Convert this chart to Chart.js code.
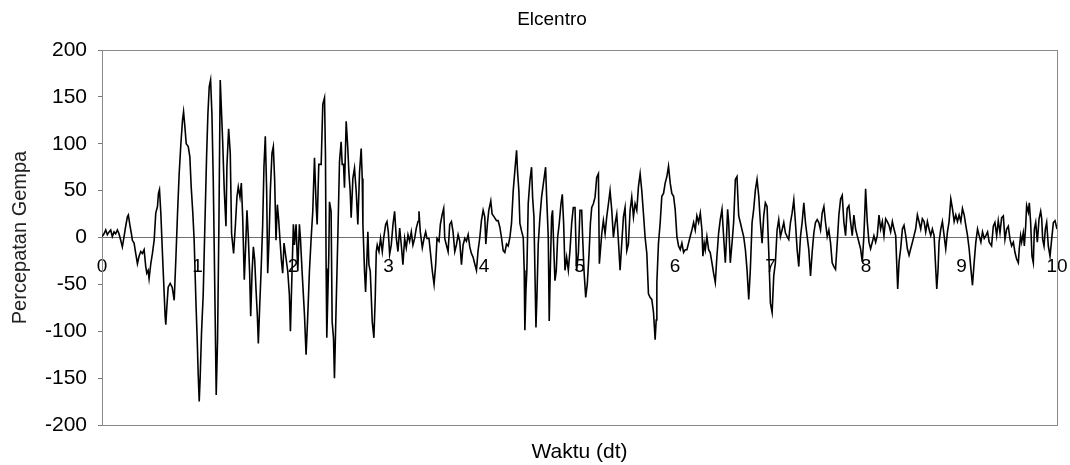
<!DOCTYPE html>
<html>
<head>
<meta charset="utf-8">
<script src="https://cdn.jsdelivr.net/npm/chart.js@4.4.1/dist/chart.umd.min.js"></script>
<style>
  body { margin: 0; background: #fff; }
  #wrap { width: 1070px; height: 465px; }
</style>
</head>
<body>
<div id="wrap"><canvas id="elcentro"></canvas></div>
<script>
// Elcentro record: [time (s), acceleration]
const part1 = [[0,1],[0.021,4],[0.039,8],[0.056,3],[0.074,6],[0.091,8],[0.108,1],[0.126,6],[0.143,4],[0.161,8],
  [0.178,4],[0.196,-3],[0.213,-10],[0.231,1],[0.248,12],[0.266,22],[0.276,24],[0.294,12],[0.308,4],[0.318,-3],
  [0.336,-6],[0.353,-17],[0.371,-28],[0.388,-20],[0.406,-15],[0.423,-17],[0.441,-13],[0.458,-31],[0.469,-38],[0.483,-35],
  [0.493,-44],[0.511,-28],[0.528,-17],[0.546,-3],[0.563,26],[0.581,33],[0.591,47],[0.602,51],[0.616,26],[0.633,-17],
  [0.651,-60],[0.661,-84],[0.668,-93],[0.679,-74],[0.693,-53],[0.714,-49],[0.735,-53],[0.756,-67],[0.773,-24],[0.791,26],
  [0.808,68],[0.826,100],[0.843,125],[0.854,134],[0.868,118],[0.882,100],[0.903,97],[0.920,86],[0.934,54],[0.951,26],
  [0.965,-3],[0.983,-67],[0.997,-109],[1.007,-145],[1.018,-175],[1.028,-149],[1.042,-102],[1.060,-60],[1.077,12],[1.095,86],
  [1.109,132],[1.123,161],[1.137,168],[1.151,132],[1.165,61],[1.175,-10],[1.186,-92],[1.196,-168],[1.210,-109],[1.224,12],
  [1.238,168],[1.249,140],[1.263,104],[1.280,51],[1.298,12],[1.308,76],[1.326,116],[1.343,90],[1.357,4],[1.378,-17],
  [1.396,12],[1.413,43],[1.427,54],[1.445,43],[1.459,58],[1.473,22],[1.490,-45],[1.504,-10],[1.518,29],[1.532,1],
  [1.546,-38],[1.557,-84],[1.571,-38],[1.585,-10],[1.599,-24],[1.613,-56],[1.627,-84],[1.637,-113],[1.651,-74],[1.665,-38],
  [1.682,12],[1.696,76],[1.710,108],[1.724,51],[1.735,-38],[1.749,-3],[1.763,51],[1.780,90],[1.794,97],[1.808,61],
  [1.822,-3],[1.836,35],[1.850,19],[1.864,-3],[1.878,-24],[1.892,-38],[1.906,-6]];

const part2 = [[1.945,-36],[1.962,-61],[1.973,-100],[1.990,-36],[2.004,14],[2.015,-8],[2.032,14],[2.050,-36],[2.067,14],[2.078,-1],
  [2.095,-36],[2.120,-82],[2.137,-125],[2.155,-82],[2.172,-36],[2.190,-1],[2.207,28],[2.225,85],[2.242,35],[2.253,14],
  [2.270,78],[2.295,78],[2.312,142],[2.330,149],[2.340,88],[2.347,-33],[2.354,-107],[2.375,-18],[2.382,38],[2.399,28],
  [2.410,-90],[2.424,-107],[2.434,-150],[2.452,-72],[2.469,-1],[2.487,81],[2.504,102],[2.515,78],[2.529,78],[2.539,53],
  [2.557,124],[2.574,95],[2.585,70],[2.599,49],[2.609,21],[2.627,63],[2.644,74],[2.662,49],[2.679,14],[2.697,70],
  [2.714,95],[2.725,63],[2.732,14],[2.749,-36],[2.760,-58],[2.774,-22],[2.784,6],[2.795,-29],[2.809,-36],[2.830,-90],
  [2.847,-107],[2.861,-65],[2.872,-15],[2.882,-8],[2.900,-15],[2.917,-1],[2.935,-15],[2.949,-1],[2.970,14],[2.984,17],
  [2.998,6],[3.012,-18],[3.029,-8],[3.047,14],[3.064,28],[3.082,-1],[3.099,-15],[3.117,10],[3.134,-8],[3.151,-29],
  [3.169,-1],[3.186,-11],[3.204,3],[3.221,-4],[3.239,6],[3.256,-8],[3.274,-1],[3.291,10],[3.309,17],[3.319,28],
  [3.333,6],[3.354,-11],[3.372,-1],[3.389,6],[3.403,-1],[3.424,-1],[3.438,-15],[3.459,-36],[3.477,-50],[3.494,-29],
  [3.508,-1],[3.529,-4],[3.543,14],[3.561,24],[3.578,31],[3.589,-1],[3.606,-8],[3.624,-15],[3.641,14],[3.659,17],
  [3.676,6],[3.694,-15],[3.711,-8],[3.729,3],[3.746,-4],[3.764,-29],[3.781,-8],[3.799,-1],[3.816,-4],[3.834,3]];

const part3 = [[3.851,-10],[3.868,-17],[3.886,-21],[3.903,-28],[3.921,-35],[3.938,-14],[3.956,0],[3.973,18],[3.991,29],[4.008,22],
  [4.019,-7],[4.036,15],[4.050,29],[4.071,39],[4.085,25],[4.106,22],[4.131,18],[4.148,18],[4.166,11],[4.183,0],
  [4.201,-14],[4.218,-16],[4.236,-7],[4.253,-9],[4.271,0],[4.288,15],[4.306,50],[4.323,71],[4.341,93],[4.351,71],
  [4.365,50],[4.376,15],[4.393,7],[4.411,0],[4.421,-35],[4.428,-99],[4.439,-57],[4.449,-35],[4.463,36],[4.481,61],
  [4.498,75],[4.509,43],[4.523,22],[4.533,-35],[4.544,-96],[4.554,-64],[4.568,-7],[4.586,22],[4.603,43],[4.621,57],
  [4.645,75],[4.655,46],[4.673,0],[4.683,-89],[4.694,-35],[4.708,22],[4.718,29],[4.729,-7],[4.743,-46],[4.757,-35],
  [4.771,0],[4.788,15],[4.806,36],[4.820,46],[4.834,15],[4.848,-35],[4.865,-21],[4.883,-35],[4.900,-14],[4.918,15],
  [4.935,32],[4.953,32],[4.970,-35],[4.988,-17],[5.005,29],[5.023,29],[5.033,0],[5.047,-35],[5.065,-64],[5.082,-49],
  [5.100,-17],[5.114,15],[5.128,32],[5.145,36],[5.163,43],[5.180,64],[5.198,68],[5.208,-28],[5.219,-14],[5.233,4],
  [5.250,18],[5.268,4],[5.285,22],[5.303,36],[5.320,50],[5.338,29],[5.355,0],[5.373,15],[5.390,25],[5.407,-3],
  [5.425,-35],[5.442,-7],[5.460,22],[5.477,32],[5.495,-14],[5.512,-7],[5.530,29],[5.547,43],[5.565,22],[5.582,36],
  [5.600,29],[5.617,54],[5.635,68],[5.652,50],[5.670,25],[5.687,0],[5.705,-17],[5.722,-60],[5.740,-64]];

const part4 = [[5.757,-66],[5.775,-80],[5.792,-109],[5.803,-88],[5.810,-48],[5.827,-6],[5.845,16],[5.862,44],[5.880,47],[5.897,58],
  [5.915,65],[5.932,76],[5.950,58],[5.967,47],[5.985,44],[6.002,30],[6.020,1],[6.037,-9],[6.055,-13],[6.072,-6],
  [6.090,-16],[6.107,-13],[6.125,-13],[6.142,-6],[6.159,1],[6.177,8],[6.195,16],[6.212,8],[6.229,23],[6.247,16],
  [6.265,26],[6.282,8],[6.292,-20],[6.306,-6],[6.317,-13],[6.334,1],[6.352,-13],[6.369,-16],[6.387,-27],[6.404,-38],
  [6.422,-48],[6.439,-20],[6.457,5],[6.474,19],[6.492,30],[6.509,1],[6.527,-27],[6.537,-6],[6.551,30],[6.562,16],
  [6.579,-27],[6.597,-6],[6.614,16],[6.632,62],[6.649,65],[6.667,23],[6.684,16],[6.702,8],[6.719,1],[6.737,-13],
  [6.754,-34],[6.772,-66],[6.789,-34],[6.807,16],[6.824,30],[6.842,51],[6.859,62],[6.877,44],[6.894,16],[6.912,-6],
  [6.929,23],[6.946,37],[6.964,33],[6.981,-13],[6.999,-70],[7.017,-80],[7.034,-41],[7.051,-27],[7.069,8],[7.086,19],
  [7.104,1],[7.121,8],[7.139,16],[7.156,5],[7.174,1],[7.191,-2],[7.209,16],[7.226,26],[7.244,40],[7.261,16],
  [7.279,-13],[7.296,-31],[7.314,1],[7.331,16],[7.349,37],[7.366,16],[7.384,1],[7.401,-13],[7.419,-41],[7.436,-16],
  [7.454,5],[7.471,16],[7.489,19],[7.506,16],[7.524,8],[7.541,26],[7.559,33],[7.576,16],[7.594,1],[7.611,8],
  [7.629,-6],[7.646,-27],[7.664,-31],[7.681,-34]];

const part5 = [[7.699,-5],[7.716,24],[7.734,41],[7.751,45],[7.768,17],[7.786,2],[7.803,31],[7.821,34],[7.838,17],[7.856,2],
  [7.873,24],[7.891,9],[7.908,2],[7.926,-5],[7.943,-12],[7.961,-26],[7.978,2],[7.989,31],[7.996,52],[8.013,17],
  [8.031,-5],[8.048,-12],[8.066,-5],[8.083,2],[8.101,-5],[8.118,2],[8.136,24],[8.153,9],[8.171,17],[8.188,2],
  [8.206,20],[8.223,17],[8.241,13],[8.258,6],[8.276,17],[8.293,9],[8.311,2],[8.321,-26],[8.332,-55],[8.346,-26],
  [8.363,-12],[8.381,9],[8.398,13],[8.416,2],[8.433,-12],[8.451,-19],[8.468,-12],[8.486,-5],[8.503,2],[8.520,9],
  [8.538,24],[8.555,17],[8.573,9],[8.590,20],[8.608,17],[8.625,6],[8.643,17],[8.660,9],[8.678,2],[8.695,9],
  [8.713,2],[8.730,-33],[8.741,-55],[8.755,-33],[8.765,-5],[8.783,9],[8.800,17],[8.818,2],[8.835,-12],[8.853,6],
  [8.870,17],[8.888,41],[8.905,31],[8.923,17],[8.940,24],[8.958,17],[8.975,24],[8.993,17],[9.010,31],[9.028,24],
  [9.045,13],[9.063,2],[9.080,-12],[9.098,-33],[9.115,-51],[9.133,-26],[9.150,-5],[9.168,9],[9.185,2],[9.203,-5],
  [9.220,6],[9.238,-1],[9.255,2],[9.273,6],[9.290,-5]];

const part6 = [[9.315,-9],[9.333,12],[9.350,16],[9.368,2],[9.385,18],[9.403,5],[9.420,21],[9.438,23],[9.455,-2],[9.473,9],
  [9.490,12],[9.508,-2],[9.525,-9],[9.543,-5],[9.560,-16],[9.577,-23],[9.595,-27],[9.605,-12],[9.619,2],[9.630,-5],
  [9.647,5],[9.658,-9],[9.672,12],[9.682,34],[9.700,27],[9.710,37],[9.724,16],[9.738,-20],[9.752,-27],[9.763,9],
  [9.777,16],[9.794,-5],[9.812,20],[9.829,28],[9.840,20],[9.850,-2],[9.864,-9],[9.878,9],[9.892,16],[9.909,-9],
  [9.927,-20],[9.944,-2],[9.962,16],[9.979,18],[10.0,9]];

const xRange = [0, 10];
const yRange = [-200, 200];
const yStep = 50;

const points = [...part1, ...part2, ...part3, ...part4, ...part5, ...part6].map(p => ({ x: p[0], y: p[1] }));

const dotted = { display: true, color: '#8a8a8a', width: 1, dash: [2, 2] };
const font = (size, weight) => ({ family: 'Liberation Sans, Arial, sans-serif', size: size, weight: weight || 'normal' });

new Chart(document.getElementById('elcentro'), {
  type: 'line',
  data: {
    datasets: [{
      data: points,
      borderColor: '#000',
      borderWidth: 1.6,
      pointRadius: 0,
      tension: 0,
      fill: false
    }]
  },
  options: {
    responsive: true,
    maintainAspectRatio: false,
    animation: false,
    layout: { padding: { left: 34, right: 0, top: 0, bottom: 0 } },
    plugins: {
      legend: { display: false },
      tooltip: { enabled: false },
      title: {
        display: true,
        text: 'Elcentro',
        color: '#000',
        font: font(19),
        padding: { top: 8.6, bottom: 18.6 }
      }
    },
    scales: {
      // time axis drawn across the zero line
      x: {
        type: 'linear',
        position: { y: 0 },
        min: xRange[0],
        max: xRange[1],
        ticks: { stepSize: 1, color: '#000', font: font(19), padding: 18, maxRotation: 0 },
        grid: { display: false, drawTicks: false },
        border: { display: true, color: '#707070', width: 1, dash: [3, 2] },
        afterFit: s => { s.paddingLeft = 0; s.paddingRight = 0; }
      },
      xb: {
        type: 'linear',
        axis: 'x',
        position: 'bottom',
        min: xRange[0],
        max: xRange[1],
        ticks: { display: false },
        grid: { display: false, drawTicks: false },
        border: dotted,
        title: { display: true, text: 'Waktu (dt)', color: '#000', font: font(21), padding: { top: 0, bottom: 0 } },
        afterFit: s => { s.height = 40; s.paddingLeft = 0; s.paddingRight = 0; }
      },
      xt: {
        type: 'linear',
        axis: 'x',
        position: 'top',
        min: xRange[0],
        max: xRange[1],
        ticks: { display: false },
        grid: { display: false, drawTicks: false },
        border: dotted,
        afterFit: s => { s.height = 0; s.paddingLeft = 0; s.paddingRight = 0; }
      },
      y: {
        type: 'linear',
        position: 'left',
        min: yRange[0],
        max: yRange[1],
        ticks: { stepSize: yStep, color: '#000', font: font(21), padding: 11 },
        grid: { display: true, drawOnChartArea: false, drawTicks: true, tickLength: 4, color: '#777' },
        border: dotted,
        title: { display: true, text: 'Percepatan Gempa', color: '#222', font: font(20), padding: { top: -26, bottom: 0 } },
        afterFit: s => { s.width = 68; }
      },
      y2: {
        type: 'linear',
        position: 'right',
        min: yRange[0],
        max: yRange[1],
        ticks: { display: false },
        grid: { display: false, drawTicks: false },
        border: dotted,
        afterFit: s => { s.width = 13; }
      }
    }
  }
});
</script>
</body>
</html>
